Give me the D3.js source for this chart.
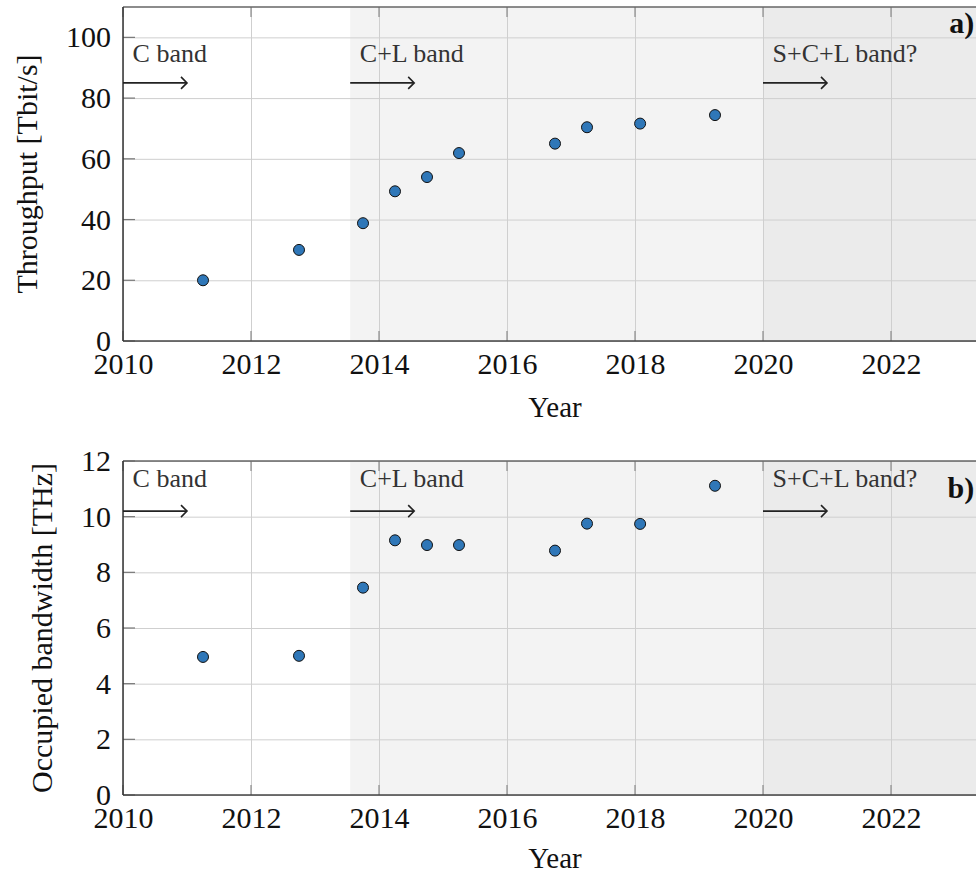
<!DOCTYPE html>
<html>
<head>
<meta charset="utf-8">
<script src="https://cdn.jsdelivr.net/npm/d3@7"></script>
<style>
  body { margin: 0; background: #fff; }
  svg, svg text { font-family: "Liberation Serif", "Times New Roman", Times, "DejaVu Serif", serif !important; }
</style>
</head>
<body>
<div id="chart"></div>
<script>
// data
const years = [2011.25, 2012.75, 2013.75, 2014.25, 2014.75, 2015.25, 2016.75, 2017.25, 2018.08, 2019.25];
const throughput = [20, 30, 38.8, 49.3, 54, 61.9, 65, 70.4, 71.6, 74.4];
const bandwidth = [4.96, 5.0, 7.45, 9.15, 8.98, 8.98, 8.78, 9.75, 9.74, 11.11];

const eraStarts = [2010, 2013.55, 2020];
const eraLabels = ['C band', 'C+L band', 'S+C+L band?'];
const eraFills = ['#ffffff', '#f3f3f3', '#ebebeb'];

const xTicks = [2010, 2012, 2014, 2016, 2018, 2020, 2022];
const tputTicks = [0, 20, 40, 60, 80, 100];
const bwTicks = [0, 2, 4, 6, 8, 10, 12];

const width = 976;
const height = 874;
const serif = '"Liberation Serif", "Times New Roman", Times, serif';

const svg = d3.select('#chart').append('svg')
  .attr('width', width)
  .attr('height', height)
  .attr('font-family', serif);

const xScale = d3.scaleLinear()
  .domain([2010, 2024])
  .range([123, 1019]);

function drawPanel(opts) {
  const y = d3.scaleLinear().domain(opts.domain).range([opts.bottom, opts.top]);
  const g = svg.append('g');
  const xEnd = xScale.domain()[1];

  // background eras
  eraStarts.forEach((s, i) => {
    const e = i < eraStarts.length - 1 ? eraStarts[i + 1] : xEnd;
    g.append('rect')
      .attr('x', xScale(s))
      .attr('y', opts.top)
      .attr('width', xScale(e) - xScale(s))
      .attr('height', opts.bottom - opts.top)
      .attr('fill', eraFills[i]);
  });

  // grid
  const gx = g.append('g')
    .attr('transform', `translate(0,${opts.bottom})`)
    .call(d3.axisBottom(xScale).tickValues(xTicks).tickSize(-(opts.bottom - opts.top)).tickFormat(''));
  gx.select('.domain').remove();
  gx.selectAll('line').attr('stroke', '#cfcfcf').attr('stroke-width', 1);

  const gy = g.append('g')
    .attr('transform', `translate(${xScale(2010)},0)`)
    .call(d3.axisLeft(y).tickValues(opts.ticks).tickSize(-(xScale(xEnd) - xScale(2010))).tickFormat(''));
  gy.select('.domain').remove();
  gy.selectAll('line').attr('stroke', '#cfcfcf').attr('stroke-width', 1);

  // inner tick marks
  xTicks.forEach((t) => {
    g.append('line').attr('x1', xScale(t)).attr('x2', xScale(t))
      .attr('y1', opts.bottom).attr('y2', opts.bottom - 10)
      .attr('stroke', '#8a8a8a').attr('stroke-width', 1.2);
    g.append('line').attr('x1', xScale(t)).attr('x2', xScale(t))
      .attr('y1', opts.top).attr('y2', opts.top + 10)
      .attr('stroke', '#8a8a8a').attr('stroke-width', 1.2);
  });
  opts.ticks.forEach((t) => {
    g.append('line').attr('x1', xScale(2010)).attr('x2', xScale(2010) + 12)
      .attr('y1', y(t)).attr('y2', y(t))
      .attr('stroke', '#777').attr('stroke-width', 1.2);
  });

  // frame
  g.append('line').attr('x1', xScale(2010)).attr('x2', width)
    .attr('y1', opts.top).attr('y2', opts.top)
    .attr('stroke', '#666').attr('stroke-width', 1.5);
  g.append('line').attr('x1', xScale(2010)).attr('x2', width)
    .attr('y1', opts.bottom).attr('y2', opts.bottom)
    .attr('stroke', '#444').attr('stroke-width', 1.5);
  g.append('line').attr('x1', xScale(2010)).attr('x2', xScale(2010))
    .attr('y1', opts.top).attr('y2', opts.bottom)
    .attr('stroke', '#333').attr('stroke-width', 1.5);

  // tick labels
  const ax = g.append('g')
    .attr('transform', `translate(0,${opts.bottom})`)
    .call(d3.axisBottom(xScale).tickValues(xTicks).tickSize(0).tickPadding(12).tickFormat(d3.format('d')))
    .attr('font-family', serif)
    .attr('font-size', 30);
  ax.select('.domain').remove();
  ax.selectAll('text').attr('fill', '#111');

  const ay = g.append('g')
    .attr('transform', `translate(${xScale(2010)},0)`)
    .call(d3.axisLeft(y).tickValues(opts.ticks).tickSize(0).tickPadding(12))
    .attr('font-family', serif)
    .attr('font-size', 30);
  ay.select('.domain').remove();
  ay.selectAll('text').attr('fill', '#111');

  // axis titles
  g.append('text')
    .attr('x', xScale(2016.75))
    .attr('y', opts.bottom + opts.yearDy)
    .attr('text-anchor', 'middle')
    .attr('font-size', 29)
    .attr('fill', '#111')
    .text('Year');
  g.append('text')
    .attr('transform', `translate(${opts.labelX},${(opts.top + opts.bottom) / 2}) rotate(-90)`)
    .attr('text-anchor', 'middle')
    .attr('font-size', 30)
    .attr('fill', '#111')
    .text(opts.label);

  // era annotations
  eraStarts.forEach((s, i) => {
    g.append('text')
      .attr('x', xScale(s + 0.15))
      .attr('y', y(opts.textY))
      .attr('font-size', 26)
      .attr('fill', '#333')
      .text(eraLabels[i]);
    const x0 = xScale(s);
    const x1 = xScale(s + 1);
    const ya = y(opts.arrowY);
    g.append('line').attr('x1', x0).attr('x2', x1 - 1).attr('y1', ya).attr('y2', ya)
      .attr('stroke', '#222').attr('stroke-width', 1.8);
    g.append('path')
      .attr('d', `M${x1 - 6},${ya - 6} L${x1},${ya} L${x1 - 6},${ya + 6}`)
      .attr('fill', 'none').attr('stroke', '#222').attr('stroke-width', 1.6);
  });

  // markers
  g.append('g').selectAll('circle')
    .data(years.map((yr, i) => [yr, opts.values[i]]))
    .enter().append('circle')
    .attr('cx', d => xScale(d[0]))
    .attr('cy', d => y(d[1]))
    .attr('r', 5.5)
    .attr('fill', '#2f77b8')
    .attr('stroke', '#111')
    .attr('stroke-width', 1);

  // panel letter
  g.append('text')
    .attr('x', xScale(2023.3))
    .attr('y', y(opts.letterY))
    .attr('text-anchor', 'end')
    .attr('font-size', 30)
    .attr('font-weight', 'bold')
    .attr('fill', '#111')
    .text(opts.letter);
}

drawPanel({
  domain: [0, 110], top: 7, bottom: 341, ticks: tputTicks, values: throughput,
  label: 'Throughput [Tbit/s]', labelX: 37, textY: 92, arrowY: 85, letter: 'a)', letterY: 101.5,
  yearDy: 76
});

drawPanel({
  domain: [0, 12], top: 461, bottom: 795, ticks: bwTicks, values: bandwidth,
  label: 'Occupied bandwidth [THz]', labelX: 52, textY: 11.08, arrowY: 10.2, letter: 'b)', letterY: 10.67,
  yearDy: 73
});
</script>
</body>
</html>
